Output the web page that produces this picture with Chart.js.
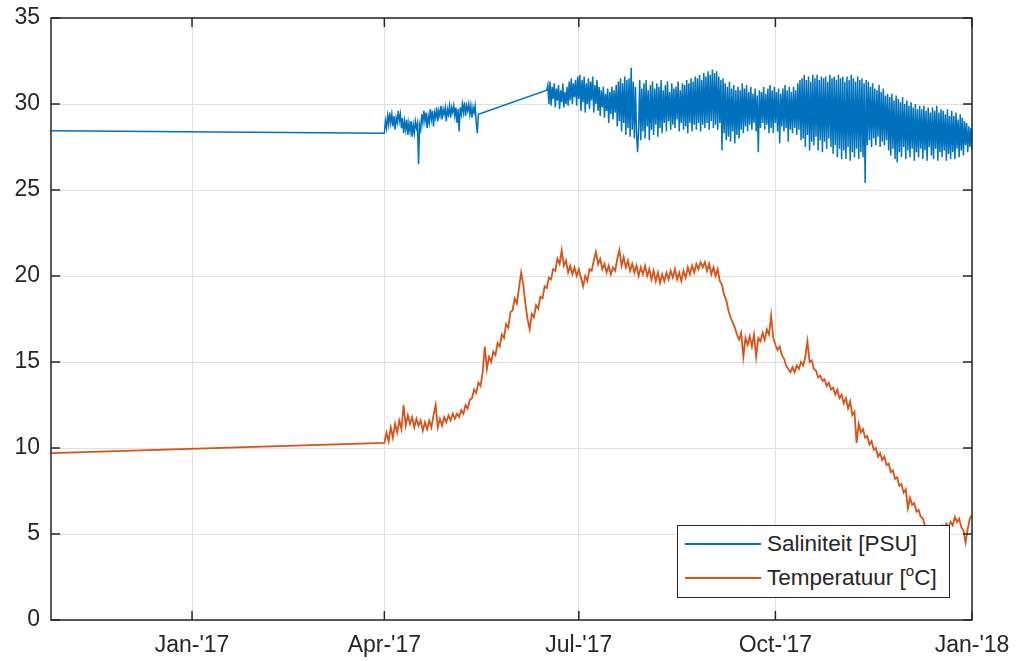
<!DOCTYPE html>
<html>
<head>
<meta charset="utf-8">
<script src="https://cdn.jsdelivr.net/npm/chart.js@4.4.1/dist/chart.umd.min.js"></script>
<style>
  body { margin: 0; background: #fff; }
  #wrap { position: relative; width: 1021px; height: 661px; }
  #legend {
    position: absolute; left: 677px; top: 525px; width: 273px; height: 73px;
    box-sizing: border-box; border: 1px solid #262626; background: #fff;
    font-family: 'Liberation Sans', Arial, Helvetica, sans-serif; font-size: 22.5px; color: #262626;
  }
  #legend .row { position: absolute; left: 0; height: 26px; line-height: 26px; width: 100%; }
  #legend .swatch { position: absolute; left: 7px; top: 12px; width: 76px; height: 1.5px; }
  #legend .txt { position: absolute; left: 89px; top: 0; white-space: nowrap; }
  #legend sup { font-size: 15px; line-height: 0; vertical-align: 9px; }
</style>
</head>
<body>
<div id="wrap">
  <canvas id="myChart" width="1021" height="661"></canvas>
  <div id="legend">
    <div class="row" style="top:5px"><span class="swatch" style="background:#0072BD"></span><span class="txt">Saliniteit [PSU]</span></div>
    <div class="row" style="top:39px"><span class="swatch" style="background:#D95319"></span><span class="txt">Temperatuur [<sup>o</sup>C]</span></div>
  </div>
</div>
<script>
// days counted from 1 Jan 2017
const xTickDays = [0, 90, 181, 273, 365];
const xTickLabels = ["Jan-'17", "Apr-'17", "Jul-'17", "Oct-'17", "Jan-'18"];

// salinity: one reading at the start, then two measured stretches (every half day)
const salFirstDay = -66;
const salFirstValue = 28.45;
const salAStart = 90;
const salA = [
  28.3, 29.0, 28.6, 29.3, 28.8, 29.5, 28.9, 29.4, 28.7, 29.3,
  28.5, 29.2, 28.9, 29.6, 29.0, 29.4, 28.6, 29.2, 28.3, 29.0,
  28.5, 29.1, 28.2, 28.9, 28.4, 29.0, 28.1, 28.8, 28.3, 29.0,
  28.6, 28.9, 26.5, 28.8, 28.5, 29.4, 28.9, 29.6, 29.0, 29.5,
  28.6, 29.3, 28.9, 29.7, 29.1, 29.6, 28.7, 29.5, 29.2, 29.8,
  29.0, 29.6, 29.3, 29.9, 29.1, 29.7, 29.4, 29.8, 29.0, 29.7,
  29.4, 29.9, 29.2, 29.8, 29.5, 29.9, 29.3, 29.8, 28.9, 29.7,
  28.4, 29.8, 29.4, 30.0, 29.5, 30.1, 29.3, 29.9, 29.6, 30.0,
  29.4, 29.9, 29.2, 29.8, 29.5, 29.9, 28.9, 28.3, 29.4
];
const salBStart = 166;
const salB = [
  30.8, 31.1, 30.0, 31.3, 29.9, 31.0, 30.3, 31.2, 29.8, 30.9,
  30.2, 31.1, 29.7, 30.8, 30.1, 31.2, 29.8, 30.7, 30.0, 31.0,
  29.9, 31.3, 30.2, 31.5, 30.0, 31.2, 30.4, 31.4, 29.9, 31.6,
  30.3, 31.7, 29.6, 31.4, 30.1, 31.6, 29.5, 31.2, 30.0, 31.5,
  29.7, 31.3, 30.2, 31.6, 29.5, 31.1, 30.0, 31.4, 29.6, 31.0,
  29.3, 30.8, 29.8, 31.0, 29.2, 30.6, 29.6, 30.9, 28.9, 30.7,
  29.4, 31.0, 29.1, 30.8, 29.5, 31.1, 28.7, 31.3, 29.0, 31.5,
  28.4, 31.2, 28.9, 31.6, 28.2, 31.4, 28.6, 31.5, 28.1, 32.1,
  28.5, 31.3, 28.0, 31.0, 28.3, 27.2, 28.6, 31.4, 27.9, 30.9,
  28.4, 31.2, 28.0, 31.4, 28.7, 30.8, 27.9, 31.1, 28.5, 31.3,
  28.2, 30.9, 28.8, 31.2, 28.1, 31.0, 28.6, 31.4, 28.3, 30.8,
  28.9, 31.1, 28.4, 31.3, 29.0, 30.7, 28.5, 31.2, 28.8, 30.9,
  28.6, 31.0, 29.1, 31.3, 28.4, 30.8, 28.9, 31.2, 28.5, 31.1,
  28.7, 31.4, 28.3, 31.2, 28.9, 31.5, 28.4, 31.3, 28.8, 31.6,
  28.5, 31.5, 28.9, 31.7, 28.4, 31.4, 28.8, 31.8, 28.6, 31.6,
  28.9, 31.9, 28.5, 31.7, 29.0, 32.0, 28.6, 31.8, 28.8, 31.9,
  28.5, 31.6, 28.9, 31.4, 27.3, 31.5, 28.3, 31.2, 27.9, 31.0,
  28.1, 31.3, 27.8, 30.9, 28.4, 31.1, 27.7, 30.8, 28.2, 31.0,
  28.0, 30.8, 28.5, 31.2, 28.3, 30.9, 28.7, 31.1, 28.4, 30.7,
  28.8, 31.0, 28.5, 30.6, 28.9, 30.9, 28.4, 30.5, 27.2, 30.8,
  28.6, 30.7, 28.9, 31.0, 28.5, 30.6, 28.8, 30.9, 28.3, 31.1,
  28.6, 30.8, 28.3, 31.0, 28.9, 30.7, 28.4, 30.9, 27.7, 30.6,
  28.7, 30.9, 28.4, 31.1, 28.6, 30.8, 27.8, 31.0, 28.5, 30.7,
  28.3, 31.0, 28.6, 30.8, 28.2, 31.2, 28.5, 31.4, 27.9, 31.5,
  28.0, 31.7, 27.5, 31.4, 28.2, 31.6, 27.3, 31.3, 27.8, 31.7,
  27.6, 31.5, 28.1, 31.7, 27.3, 31.4, 27.9, 31.6, 27.2, 31.5,
  27.8, 31.6, 27.4, 31.3, 28.0, 31.7, 27.5, 31.5, 27.1, 31.6,
  27.6, 31.4, 26.9, 31.7, 27.4, 31.5, 26.8, 31.6, 27.3, 31.3,
  26.8, 31.6, 27.5, 31.4, 26.7, 31.7, 27.2, 31.5, 26.9, 31.3,
  27.4, 31.6, 26.8, 31.4, 27.2, 31.5, 26.9, 31.2, 25.4, 31.4,
  27.6, 31.3, 27.9, 31.0, 27.5, 31.2, 28.0, 30.9, 27.6, 30.8,
  28.1, 31.1, 27.5, 30.7, 27.8, 30.9, 27.6, 30.5, 27.9, 30.6,
  27.3, 30.4, 27.0, 30.6, 27.4, 30.2, 26.8, 30.5, 26.6, 30.3,
  27.2, 30.1, 26.9, 30.4, 27.5, 30.0, 26.8, 30.2, 27.3, 29.9,
  26.9, 30.1, 27.4, 29.8, 26.7, 30.0, 27.2, 29.7, 26.9, 29.9,
  27.4, 29.7, 26.8, 29.9, 27.3, 29.6, 26.7, 29.8, 27.5, 29.5,
  27.0, 29.8, 26.8, 29.6, 27.4, 29.9, 26.7, 29.5, 27.2, 29.7,
  26.9, 29.6, 27.3, 29.4, 26.7, 29.7, 27.1, 29.3, 26.8, 29.6,
  27.2, 29.3, 26.8, 29.5, 27.4, 29.1, 26.9, 29.4, 27.3, 29.2,
  27.0, 29.0, 27.6, 28.9, 27.2, 28.7, 27.5, 28.6, 27.3, 28.4
];

// temperature: one reading at the start, then daily from 1 Apr
const tempFirstDay = -66;
const tempFirstValue = 9.7;
const tempStart = 90;
const tempValues = [
  10.3, 10.9, 10.4, 11.2, 10.6, 11.4, 10.9, 11.6, 11.1, 12.5,
  11.3, 11.9, 11.4, 11.8, 11.2, 11.7, 11.3, 11.6, 11.0, 11.5,
  11.1, 11.6, 11.2, 11.9, 12.5, 11.2, 11.7, 11.3, 11.8, 11.5,
  11.9, 11.6, 12.0, 11.7, 12.0, 11.8, 12.2, 12.0, 12.5, 12.3,
  12.8, 12.9, 13.4, 13.2, 13.8, 13.6, 14.4, 15.9, 14.6, 15.3,
  15.0, 15.6, 15.4, 16.1, 15.9, 16.6, 16.4, 17.2, 17.0, 17.9,
  18.0, 18.7, 18.4, 19.3, 20.2, 19.5, 18.4, 17.5, 16.9, 17.8,
  17.6, 18.3, 18.1, 18.8, 18.7, 19.4, 19.3, 19.9, 19.8, 20.4,
  20.3, 21.0, 20.7, 21.5, 20.6, 20.9, 20.2, 20.6, 20.1, 20.5,
  20.0, 20.4, 19.9, 19.4, 20.0, 19.7, 20.4, 20.3, 20.9, 21.4,
  20.7, 21.0, 20.4, 20.7, 20.2, 20.6, 20.1, 20.5, 20.3, 21.0,
  21.5, 20.6, 21.1, 20.5, 20.9, 20.3, 20.7, 20.2, 20.6, 20.0,
  20.5, 20.1, 20.6, 20.0, 20.4, 19.8, 20.3, 19.7, 20.2, 19.6,
  20.1, 19.7, 20.2, 19.8, 20.3, 19.9, 20.4, 19.8, 20.2, 19.7,
  20.3, 19.9, 20.5, 20.1, 20.6, 20.2, 20.7, 20.4, 20.8, 20.5,
  20.8, 20.3, 20.7, 20.1, 20.5, 20.0, 20.4, 19.7, 19.5, 18.9,
  18.6, 18.0, 17.6, 17.3, 17.0, 16.6, 16.3, 16.7, 15.3, 16.4,
  16.0, 16.5, 15.9, 16.6, 15.3, 16.4, 16.2, 16.7, 16.3, 16.9,
  16.6, 17.7, 16.4, 16.0, 15.7, 15.9, 15.4, 15.2, 14.8, 14.6,
  14.4, 14.7, 14.4, 14.8, 14.6, 15.0, 14.8, 15.3, 16.2, 15.0,
  15.1, 14.6, 14.5, 14.1, 14.2, 13.9, 14.0, 13.6, 13.8, 13.4,
  13.5, 13.1, 13.4, 12.9, 13.1, 12.6, 12.9, 12.3, 12.7, 11.9,
  12.1, 10.3, 11.4, 10.9, 11.1, 10.6, 10.7, 10.2, 10.4, 9.9,
  10.0, 9.5, 9.7, 9.3, 9.5, 9.0, 9.1, 8.6, 8.7, 8.2,
  8.3, 7.8, 7.9, 7.4, 7.6, 6.5, 7.1, 6.7, 6.8, 6.3,
  6.4, 6.0, 5.9, 5.5, 5.3, 5.4, 5.1, 5.3, 5.0, 5.4,
  5.2, 5.5, 5.3, 5.6, 5.4, 5.7, 5.5, 6.0, 5.7, 5.9,
  5.4, 5.2, 4.5, 5.3, 5.9, 6.1
];

function series(start, step, values) {
  return values.map((v, i) => ({ x: start + i * step, y: v }));
}

const salinityData = [{ x: salFirstDay, y: salFirstValue }]
  .concat(series(salAStart, 0.5, salA), series(salBStart, 0.5, salB));
const temperatureData = [{ x: tempFirstDay, y: tempFirstValue }]
  .concat(series(tempStart, 1, tempValues));

const axisColor = '#262626';
const gridColor = '#dfdfdf';

// box round the axes + inward ticks on all four sides, like matlab
const boxPlugin = {
  id: 'box',
  afterDraw(chart) {
    const { ctx, chartArea: a, scales: { x, y } } = chart;
    ctx.save();
    ctx.strokeStyle = axisColor;
    ctx.lineWidth = 1.5;
    ctx.beginPath();
    xTickDays.forEach(d => {
      const px = x.getPixelForValue(d);
      ctx.moveTo(px, a.bottom); ctx.lineTo(px, a.bottom - 9);
      ctx.moveTo(px, a.top); ctx.lineTo(px, a.top + 9);
    });
    y.ticks.forEach(t => {
      const py = y.getPixelForValue(t.value);
      ctx.moveTo(a.left, py); ctx.lineTo(a.left + 9, py);
      ctx.moveTo(a.right, py); ctx.lineTo(a.right - 9, py);
    });
    ctx.stroke();
    ctx.strokeRect(a.left, a.top, a.right - a.left, a.bottom - a.top);
    ctx.restore();
  }
};

const ctx = document.getElementById("myChart").getContext("2d");
window.myChart = new Chart(ctx, {
  type: 'line',
  data: {
    datasets: [{
      label: 'Saliniteit [PSU]',
      data: salinityData,
      borderColor: '#0072BD',
      borderWidth: 1.5,
      pointRadius: 0,
      tension: 0
    }, {
      label: 'Temperatuur [oC]',
      data: temperatureData,
      borderColor: '#D95319',
      borderWidth: 1.8,
      pointRadius: 0,
      tension: 0
    }]
  },
  options: {
    responsive: false,
    animation: false,
    layout: { padding: { top: 18, right: 49, left: 0, bottom: 0 } },
    plugins: { legend: { display: false }, tooltip: { enabled: false } },
    scales: {
      x: {
        type: 'linear',
        min: -66,
        max: 365,
        afterBuildTicks: scale => { scale.ticks = xTickDays.map(v => ({ value: v })); },
        afterFit: scale => {
          scale.height = 41;
          scale.paddingLeft = 0;
          scale.paddingRight = 0;
        },
        ticks: {
          autoSkip: false,
          maxRotation: 0,
          padding: 12,
          color: axisColor,
          font: { family: "'Liberation Sans', Arial, sans-serif", size: 23 },
          callback: v => xTickLabels[xTickDays.indexOf(v)]
        },
        grid: { color: gridColor, drawTicks: false },
        border: { display: false }
      },
      y: {
        min: 0,
        max: 35,
        afterFit: scale => {
          scale.width = 51;
          scale.paddingTop = 0;
          scale.paddingBottom = 0;
        },
        ticks: {
          stepSize: 5,
          padding: 11,
          color: axisColor,
          font: { family: "'Liberation Sans', Arial, sans-serif", size: 23 }
        },
        grid: { color: gridColor, drawTicks: false },
        border: { display: false }
      }
    }
  },
  plugins: [boxPlugin]
});
</script>
</body>
</html>
